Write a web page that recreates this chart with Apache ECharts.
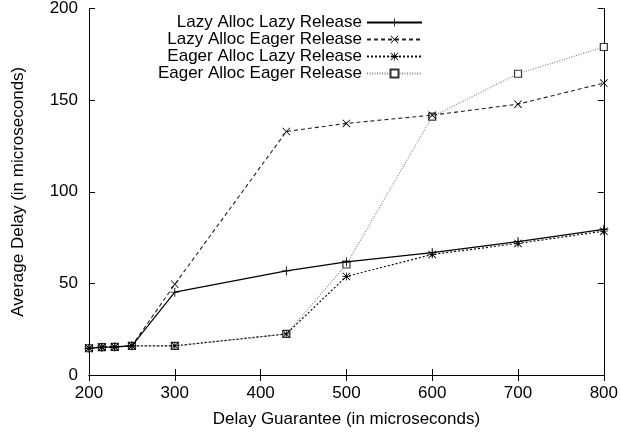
<!DOCTYPE html>
<html>
<head>
<meta charset="utf-8">
<script src="https://cdn.jsdelivr.net/npm/echarts@6/dist/echarts.min.js"></script>
<style>
  html, body { margin: 0; padding: 0; background: #fff; }
  #chart { width: 621px; height: 433px; }
</style>
</head>
<body>
<div id="chart"></div>
<script>
// delay guarantee (microseconds)
var guarantee = [200, 215, 230, 250, 300, 430, 500, 600, 700, 800];
// average delay (microseconds)
var lazyLazy   = [14.6, 15.2, 15.3, 15.9, 45.2, 56.8, 61.7, 66.8, 72.8, 79.5];
var lazyEager  = [14.6, 15.2, 15.3, 15.9, 49.5, 132.9, 137.3, 141.8, 147.8, 159.3];
var eagerLazy  = [14.6, 15.2, 15.3, 15.9, 15.9, 22.4, 53.8, 65.8, 71.8, 78.5];
var eagerEager = [14.6, 15.2, 15.3, 15.9, 15.9, 22.4, 60.3, 141.0, 164.4, 179.0];

var seriesNames = [
  "Lazy Alloc Lazy Release",
  "Lazy Alloc Eager Release",
  "Eager Alloc Lazy Release",
  "Eager Alloc Eager Release"
];

var font = "Liberation Sans, Arial, Helvetica, sans-serif";

function pairs(ys) {
  return guarantee.map(function (x, i) { return [x, ys[i]]; });
}

var plusPath = "path://M4.5,0h1v10h-1z M0,4.5h10v1h-10z";
var crossPath = "path://M0.7,0L10,9.3L9.3,10L0,0.7z M9.3,0L10,0.7L0.7,10L0,9.3z";
var starPath = "path://M4.5,0h1v10h-1z M0,4.5h10v1h-10z M0.7,0L10,9.3L9.3,10L0,0.7z M9.3,0L10,0.7L0.7,10L0,9.3z";

var myChart = echarts.init(document.getElementById("chart"));

var option = {
  animation: false,
  backgroundColor: "#fff",
  textStyle: { fontFamily: font, color: "#000" },
  grid: { left: 89, right: 16, top: 7, bottom: 57 },
  legend: {
    data: seriesNames,
    orient: "vertical",
    align: "right",
    right: 193,
    top: 9,
    itemWidth: 55,
    itemHeight: 10,
    itemGap: 0,
    textStyle: { fontSize: 17, lineHeight: 14, color: "#000", fontFamily: font }
  },
  xAxis: [
    {
      type: "value",
      min: 200,
      max: 800,
      interval: 100,
      name: "Delay Guarantee (in microseconds)",
      nameLocation: "middle",
      nameGap: 36,
      nameTextStyle: { fontSize: 17, color: "#000" },
      axisLine: { lineStyle: { color: "#000", width: 1 } },
      axisTick: { inside: true, length: 6, lineStyle: { color: "#000" } },
      axisLabel: { fontSize: 17, color: "#000", margin: 10 },
      splitLine: { show: false }
    },
    {
      type: "value",
      position: "top",
      min: 200,
      max: 800,
      interval: 100,
      axisLine: { lineStyle: { color: "#000", width: 1 } },
      axisTick: { inside: true, length: 6, lineStyle: { color: "#000" } },
      axisLabel: { show: false },
      splitLine: { show: false }
    }
  ],
  yAxis: [
    {
      type: "value",
      min: 0,
      max: 200,
      interval: 50,
      name: "Average Delay (in microseconds)",
      nameLocation: "middle",
      nameGap: 62,
      nameTextStyle: { fontSize: 17, color: "#000" },
      axisLine: { show: true, lineStyle: { color: "#000", width: 1 } },
      axisTick: { show: true, inside: true, length: 6, lineStyle: { color: "#000" } },
      axisLabel: { fontSize: 17, color: "#000", margin: 11 },
      splitLine: { show: false }
    },
    {
      type: "value",
      position: "right",
      min: 0,
      max: 200,
      interval: 50,
      axisLine: { show: true, lineStyle: { color: "#000", width: 1 } },
      axisTick: { show: true, inside: true, length: 6, lineStyle: { color: "#000" } },
      axisLabel: { show: false },
      splitLine: { show: false }
    }
  ],
  series: [
    {
      name: seriesNames[0],
      type: "line",
      data: pairs(lazyLazy),
      symbol: plusPath,
      symbolSize: 9,
      lineStyle: { color: "#000", width: 1.2, type: "solid" },
      itemStyle: { color: "#000" },
      z: 4
    },
    {
      name: seriesNames[1],
      type: "line",
      data: pairs(lazyEager),
      symbol: crossPath,
      symbolSize: 8,
      lineStyle: { color: "#222", width: 1.1, type: [4, 3] },
      itemStyle: { color: "#000" },
      z: 3
    },
    {
      name: seriesNames[2],
      type: "line",
      data: pairs(eagerLazy),
      symbol: starPath,
      symbolSize: 8,
      lineStyle: { color: "#111", width: 1.2, type: [2, 2] },
      itemStyle: { color: "#000" },
      z: 2
    },
    {
      name: seriesNames[3],
      type: "line",
      data: pairs(eagerEager),
      symbol: "rect",
      symbolSize: 7,
      lineStyle: { color: "#888", width: 1.2, type: [1, 1.5] },
      itemStyle: { color: "#fff", borderColor: "#333", borderWidth: 1.2 },
      z: 1
    }
  ]
};

myChart.setOption(option);
</script>
</body>
</html>
